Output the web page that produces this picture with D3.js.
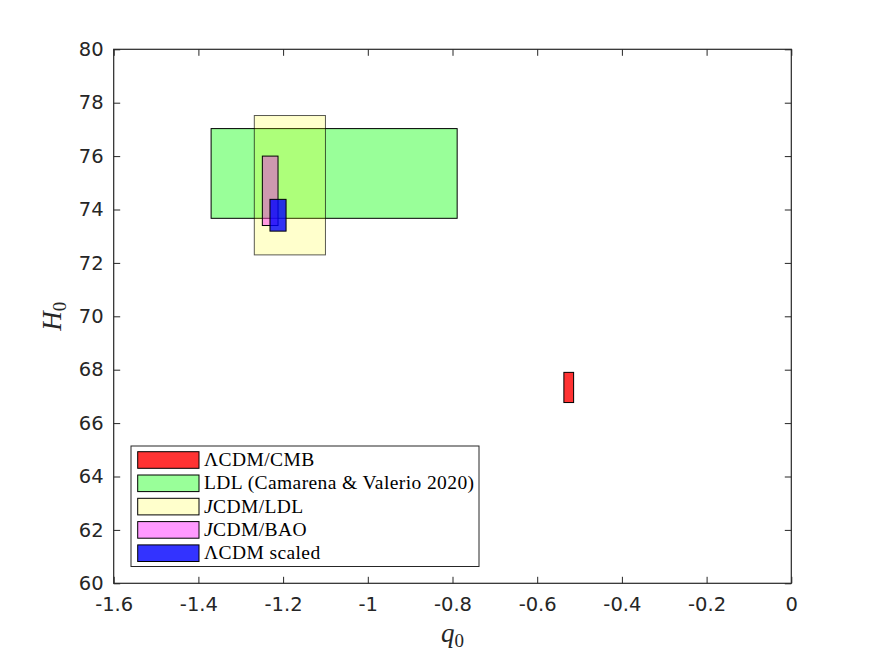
<!DOCTYPE html>
<html><head><meta charset="utf-8">
<script src="https://cdn.jsdelivr.net/npm/d3@7/dist/d3.min.js"></script>
<style>body{margin:0;background:#fff}svg{display:block}</style>
</head><body>
<script>
// ---- data ----
const seriesNames = ["ΛCDM/CMB", "LDL (Camarena & Valerio 2020)", "JCDM/LDL", "JCDM/BAO", "ΛCDM scaled"];
const q0Low  = [-0.537, -1.370, -1.268, -1.249, -1.231];
const q0High = [-0.514, -0.789, -1.100, -1.212, -1.193];
const H0Low  = [66.77, 73.67, 72.30, 73.40, 73.19];
const H0High = [67.90, 77.03, 77.52, 76.00, 74.38];
const xTicks = [-1.6, -1.4, -1.2, -1, -0.8, -0.6, -0.4, -0.2, 0];
const yTicks = [60, 62, 64, 66, 68, 70, 72, 74, 76, 78, 80];

// ---- styles ----
const faceColors = ["#ff0000", "#00ff00", "#ffff00", "#ff00ff", "#0000ff"];
const faceAlpha  = [0.8, 0.4, 0.2, 0.4, 0.8];
const edgeAlpha  = [1, 1, 0.65, 1, 1];

const W = 875, H = 656;
const L = 113.7, R = 791.3, T = 49.3, B = 583.3;
const svg = d3.select("body").append("svg").attr("width", W).attr("height", H);

const x = d3.scaleLinear().domain([-1.6, 0]).range([L, R]);
const y = d3.scaleLinear().domain([60, 80]).range([B, T]);

const data = seriesNames.map((n, i) => ({n, i, x0: q0Low[i], x1: q0High[i], y0: H0Low[i], y1: H0High[i]}));

// rectangles
svg.append("g").selectAll("rect").data(data).join("rect")
  .attr("x", d => x(d.x0)).attr("y", d => y(d.y1))
  .attr("width", d => x(d.x1) - x(d.x0)).attr("height", d => y(d.y0) - y(d.y1))
  .attr("fill", d => faceColors[d.i]).attr("fill-opacity", d => faceAlpha[d.i])
  .attr("stroke", "#000").attr("stroke-opacity", d => edgeAlpha[d.i]).attr("stroke-width", 1);

// axes
const tickFont = "'DejaVu Sans', sans-serif";
const tickLen = 6.5;
const gx = svg.append("g").attr("transform", `translate(0,${B})`)
  .call(d3.axisBottom(x).tickValues(xTicks).tickSizeInner(-tickLen).tickSizeOuter(0).tickPadding(14).tickFormat(d => String(d)));
const gxt = svg.append("g").attr("transform", `translate(0,${T})`)
  .call(d3.axisTop(x).tickValues(xTicks).tickSizeInner(-tickLen).tickSizeOuter(0).tickFormat(""));
const gy = svg.append("g").attr("transform", `translate(${L},0)`)
  .call(d3.axisLeft(y).tickValues(yTicks).tickSizeInner(-tickLen).tickSizeOuter(0).tickPadding(10).tickFormat(d => String(d)));
const gyr = svg.append("g").attr("transform", `translate(${R},0)`)
  .call(d3.axisRight(y).tickValues(yTicks).tickSizeInner(-tickLen).tickSizeOuter(0).tickFormat(""));
[gx, gxt, gy, gyr].forEach(g => {
  g.select(".domain").remove();
  g.selectAll(".tick line").attr("stroke", "#262626").attr("stroke-width", 1);
  g.selectAll(".tick text").attr("fill", "#262626").style("font-family", tickFont).style("font-size", "19.5px");
});
gx.selectAll(".tick text").attr("dy", "0.71em");
// frame
svg.append("rect").attr("x", L).attr("y", T).attr("width", R - L).attr("height", B - T)
  .attr("fill", "none").attr("stroke", "#262626").attr("stroke-width", 1.2);

// axis labels
const serif = "'Liberation Serif', 'DejaVu Serif', serif";
const xl = svg.append("text").attr("x", (L + R) / 2).attr("y", 642).attr("text-anchor", "middle")
  .style("font-family", serif).style("font-size", "27px").attr("fill", "#262626");
xl.append("tspan").style("font-style", "italic").text("q");
xl.append("tspan").attr("dy", 5).style("font-size", "19px").text("0");
const yl = svg.append("text").attr("transform", `translate(61,${(T + B) / 2}) rotate(-90)`).attr("text-anchor", "middle")
  .style("font-family", serif).style("font-size", "27px").attr("fill", "#262626");
yl.append("tspan").style("font-style", "italic").text("H");
yl.append("tspan").attr("dy", 5).style("font-size", "19px").text("0");

// legend
const lg = svg.append("g");
lg.append("rect").attr("x", 131).attr("y", 446).attr("width", 348).attr("height", 120.5)
  .attr("fill", "#fff").attr("stroke", "#262626").attr("stroke-width", 1);
const rowY = i => 460 + i * 23.3;
const rows = lg.selectAll("g.row").data(data).join("g").attr("class", "row");
rows.append("rect").attr("x", 137.7).attr("y", d => rowY(d.i) - 8.3).attr("width", 61.3).attr("height", 16.6)
  .attr("fill", d => faceColors[d.i]).attr("fill-opacity", d => faceAlpha[d.i])
  .attr("stroke", "#000").attr("stroke-width", 1);
rows.each(function(d) {
  const t = d3.select(this).append("text").attr("x", 204).attr("y", rowY(d.i) + 6)
    .style("font-family", serif).style("font-size", "19.5px").attr("fill", "#000")
    .style("letter-spacing", "0.4px");
  if (d.n.startsWith("J")) {
    t.append("tspan").style("font-style", "italic").text("J");
    t.append("tspan").text(d.n.slice(1));
  } else {
    t.text(d.n);
  }
});
</script>
</body></html>
